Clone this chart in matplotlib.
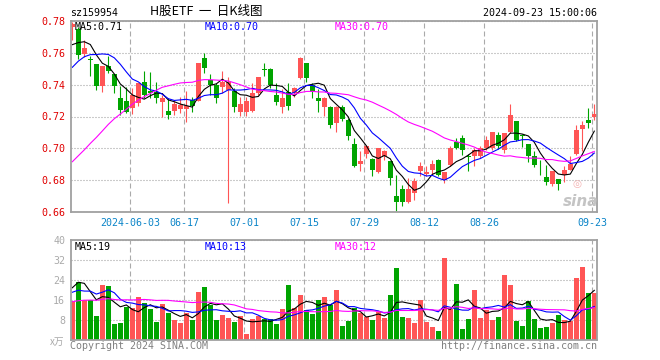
"""Daily K-line chart of the H-share ETF (sz159954), sina style
"""
import numpy as np
import pandas as pd
import matplotlib
matplotlib.use('Agg')
import matplotlib.pyplot as plt

W, H = 660, 360
MONO = 'DejaVu Sans Mono'
CJK = ['Noto Sans CJK SC', 'DejaVu Sans']
UP, DOWN = '#ff5555', '#00a400'
MA_COLORS = {5: '#000000', 10: '#0000ff', 30: '#ff00ff'}

# trading days on screen (SZSE calendar)
holidays = ['2024-06-10', '2024-09-16', '2024-09-17']
dates = pd.bdate_range('2024-05-20', '2024-09-23', freq='C', holidays=holidays)

tick_dates = ['2024-06-03', '2024-06-17', '2024-07-01', '2024-07-15',
              '2024-07-29', '2024-08-12', '2024-08-26', '2024-09-23']
tick_labels = ['2024-06-03', '06-17', '07-01', '07-15',
               '07-29', '08-12', '08-26', '09-23']

open_ = [0.776, 0.7746, 0.7592, 0.7555, 0.7529, 0.7388, 0.7517, 0.7469, 0.7315, 0.7298,
         0.7252, 0.7283, 0.7413, 0.736, 0.7356, 0.7288, 0.7235, 0.7235, 0.7248, 0.725,
         0.7304, 0.7298, 0.7567, 0.7429, 0.7398, 0.7383, 0.7367, 0.736, 0.7231, 0.7231,
         0.7235, 0.7346, 0.7498, 0.7498, 0.7335, 0.7262, 0.7356, 0.7346, 0.7442, 0.7538,
         0.7398, 0.7315, 0.7258, 0.7262, 0.7158, 0.7262, 0.7179, 0.703, 0.6904, 0.6967,
         0.6933, 0.685, 0.6954, 0.6919, 0.67, 0.6748, 0.6665, 0.6721, 0.6856, 0.6838,
         0.6863, 0.6929, 0.6804, 0.6898, 0.7038, 0.7065, 0.6952, 0.6952, 0.6952, 0.7002,
         0.7002, 0.7085, 0.6988, 0.71, 0.7169, 0.7081, 0.7029, 0.695, 0.6879, 0.6819,
         0.6779, 0.681, 0.6835, 0.6867, 0.6967, 0.7121, 0.7179, 0.7196]
high = [0.779, 0.776, 0.768, 0.758, 0.753, 0.7517, 0.758, 0.7469, 0.7388, 0.7383,
        0.7377, 0.7408, 0.7488, 0.748, 0.7419, 0.7335, 0.7315, 0.73, 0.7325, 0.736,
        0.7319, 0.7538, 0.76, 0.7467, 0.7408, 0.7485, 0.745, 0.7377, 0.7325, 0.7325,
        0.7408, 0.745, 0.7533, 0.7502, 0.7408, 0.7371, 0.7408, 0.7383, 0.7571, 0.7538,
        0.7408, 0.7373, 0.7325, 0.7265, 0.7265, 0.7275, 0.719, 0.7065, 0.6981, 0.7023,
        0.694, 0.7002, 0.6992, 0.6923, 0.6835, 0.6773, 0.6815, 0.6815, 0.6913, 0.6888,
        0.6929, 0.6933, 0.6854, 0.7017, 0.7065, 0.7085, 0.6965, 0.7002, 0.7017, 0.7075,
        0.7106, 0.7106, 0.7096, 0.7279, 0.7169, 0.709, 0.7029, 0.6981, 0.6929, 0.6898,
        0.686, 0.681, 0.6892, 0.6954, 0.7148, 0.7169, 0.7254, 0.7279]
low = [0.768, 0.756, 0.7575, 0.7456, 0.7363, 0.7356, 0.7475, 0.7346, 0.721, 0.7221,
       0.7215, 0.7263, 0.7315, 0.7315, 0.7283, 0.7194, 0.7183, 0.721, 0.7225, 0.7163,
       0.7231, 0.7294, 0.7475, 0.7335, 0.7283, 0.7346, 0.6658, 0.7231, 0.7204, 0.7204,
       0.7231, 0.7335, 0.7454, 0.7377, 0.7273, 0.7221, 0.7242, 0.7325, 0.7437, 0.7417,
       0.7315, 0.7231, 0.7204, 0.7127, 0.71, 0.7169, 0.705, 0.6883, 0.6856, 0.694,
       0.6829, 0.6846, 0.6929, 0.6773, 0.6606, 0.6638, 0.6658, 0.6675, 0.6827, 0.6827,
       0.6835, 0.6825, 0.6783, 0.6892, 0.6996, 0.696, 0.6858, 0.6892, 0.6942, 0.6988,
       0.6988, 0.6996, 0.6971, 0.7096, 0.7044, 0.7008, 0.6913, 0.6881, 0.6831, 0.6773,
       0.6767, 0.6738, 0.679, 0.6863, 0.696, 0.6981, 0.7127, 0.7179]
close = [0.778, 0.7585, 0.7627, 0.7552, 0.7388, 0.7517, 0.7487, 0.7388, 0.7238, 0.7231,
         0.7333, 0.7408, 0.7333, 0.7346, 0.7315, 0.7315, 0.721, 0.7277, 0.7273, 0.7267,
         0.7267, 0.7538, 0.7506, 0.7398, 0.7313, 0.7413, 0.7419, 0.7258, 0.7279, 0.7298,
         0.7346, 0.7446, 0.7494, 0.7398, 0.7288, 0.7315, 0.7267, 0.7377, 0.7567, 0.7442,
         0.7356, 0.73, 0.7315, 0.7148, 0.7262, 0.7183, 0.7079, 0.6888, 0.6919, 0.7017,
         0.6862, 0.7, 0.6981, 0.6815, 0.6663, 0.6665, 0.6748, 0.6798, 0.6888, 0.6852,
         0.6902, 0.6831, 0.685, 0.7002, 0.7002, 0.6988, 0.6948, 0.6988, 0.7002, 0.7054,
         0.7106, 0.7013, 0.7096, 0.721, 0.7054, 0.7077, 0.6954, 0.6898, 0.6875, 0.6788,
         0.686, 0.6779, 0.6867, 0.6902, 0.7117, 0.7148, 0.7158, 0.7217]
# volume, in units of 10k lots
volume = [15.6, 23.1, 16.0, 16.0, 9.6, 22.0, 21.6, 6.4, 6.8, 13.3,
          12.8, 17.2, 14.8, 12.4, 7.2, 14.4, 10.8, 8.0, 6.8, 10.8,
          8.0, 19.2, 21.2, 14.0, 8.0, 10.0, 8.8, 7.2, 9.6, 2.4,
          8.4, 9.6, 8.4, 8.4, 6.4, 12.4, 22.0, 12.8, 18.0, 12.0,
          10.4, 16.0, 17.2, 13.9, 20.0, 5.6, 7.7, 12.7, 10.9, 9.1,
          8.0, 11.3, 8.8, 18.0, 28.9, 9.2, 8.8, 6.8, 16.0, 7.2,
          5.3, 3.6, 32.8, 12.3, 22.4, 4.4, 8.4, 20.0, 8.8, 12.0,
          8.0, 9.2, 26.1, 22.0, 7.6, 5.6, 15.6, 8.4, 4.8, 5.2,
          6.8, 10.0, 8.0, 7.6, 24.8, 29.3, 18.9, 18.7]

# the 29 sessions before the window, only needed to seed the moving averages
prev_close = [0.646, 0.652, 0.634, 0.627, 0.630, 0.625, 0.632, 0.636, 0.634, 0.639,
              0.662, 0.668, 0.675, 0.671, 0.676, 0.694, 0.699, 0.702, 0.718, 0.722,
              0.720, 0.735, 0.742, 0.738, 0.748, 0.752, 0.760, 0.764, 0.771]
prev_vol = [11.2, 9.8, 14.5, 12.0, 10.6, 13.8, 16.2, 12.4, 11.0, 15.1,
            13.6, 12.2, 17.0, 14.3, 12.8, 11.5, 15.8, 13.0, 16.4, 15.1,
            14.8, 19.6, 16.2, 21.4, 14.5, 12.1, 18.2, 32.6, 26.0]


def moving_averages(prev, values):
    s = pd.Series(list(prev) + list(values))
    return {n: s.rolling(n).mean().values[-len(values):] for n in (5, 10, 30)}


def put(x, y, s, **kw):
    """Place a text using pixel coordinates of the 660x360 canvas."""
    kw.setdefault('va', 'center')
    kw.setdefault('family', MONO)
    kw.setdefault('size', 7.2)
    fig.text(x / W, 1 - y / H, s, **kw)


def style_axes(ax, xticks):
    for sp in ax.spines.values():
        sp.set_color('#a0a0a0')
        sp.set_linewidth(1.3)
    ax.tick_params(length=0)
    ax.set_xticks(xticks)
    ax.xaxis.grid(True, color='#aaaaaa', linewidth=0.8, linestyle=(0, (4.5, 2.7)))
    ax.yaxis.grid(True, color='#999999', linewidth=0.8, linestyle=(0, (0.9, 1.8)))
    ax.set_axisbelow(True)


o = np.array(open_)
c = np.array(close)
n = len(c)
assert len(dates) == n
x = np.arange(n)
up = c >= o
colors = np.where(up, UP, DOWN)

ma_p = moving_averages(prev_close, close)
ma_v = moving_averages(prev_vol, volume)

tick_pos = np.array([dates.get_loc(pd.Timestamp(d)) for d in tick_dates]) - 0.33

fig = plt.figure(figsize=(W / 100, H / 100), dpi=100)
left, right = 70.7, 597
ax = fig.add_axes([left / W, 1 - 212.3 / H, (right - left) / W, (212.3 - 20.7) / H])
axv = fig.add_axes([left / W, 1 - 340 / H, (right - left) / W, 100 / H])

# watermark sits under the candles
put(577, 184, '◎', ha='center', family='DejaVu Sans', size=7.5,
    color='#f4b0b0', zorder=0)
put(581, 201, 'sina', ha='center', family='DejaVu Sans', size=11,
    style='italic', weight='bold', color='#c4c4c4', zorder=0)
ax.patch.set_alpha(0)

# price panel
style_axes(ax, tick_pos)
ax.vlines(x, low, high, colors=colors, linewidth=0.8)
body = np.maximum(np.abs(c - o), 0.0005)
ax.bar(x, body, bottom=np.minimum(o, c), width=0.8, color=colors, linewidth=0)
for k in (5, 10, 30):
    ax.plot(x, ma_p[k], color=MA_COLORS[k], linewidth=0.8)
ax.set_xlim(-0.27, 87.45)
ax.set_ylim(0.66, 0.78)
yt = [0.66, 0.68, 0.70, 0.72, 0.74, 0.76, 0.78]
ax.set_yticks(yt)
ax.set_yticklabels(['%.2f' % v for v in yt], family=MONO, size=7.2, color='#e00000')
ax.set_xticklabels(tick_labels, family=MONO, size=7.2, color='#0a84c8')
ax.tick_params(axis='y', pad=4)
ax.tick_params(axis='x', pad=4)

# volume panel
style_axes(axv, tick_pos)
axv.bar(x, volume, width=0.85, color=colors, linewidth=0)
for k in (5, 10, 30):
    axv.plot(x, ma_v[k], color=MA_COLORS[k], linewidth=0.8)
axv.set_xlim(-0.27, 87.45)
axv.set_ylim(0, 40)
vt = [0, 8, 16, 24, 32, 40]
axv.set_yticks(vt)
axv.set_yticklabels([''] + [str(v) for v in vt[1:]], family=MONO, size=7.2,
                    color='#aaaaaa')
axv.set_xticklabels([])
axv.tick_params(axis='y', pad=4)

# header and legends
put(70, 13, 'sz159954')
put(206, 11.5, 'H股ETF  一  日K线图', ha='center', family=CJK, size=9)
put(597, 13, '2024-09-23 15:00:06', ha='right')
for k, xx in ((5, 75), (10, 205), (30, 335)):
    put(xx, 26.5, 'MA%d:%.2f' % (k, ma_p[k][-1]), color=MA_COLORS[k])
    put(xx, 246.5, 'MA%d:%d' % (k, int(ma_v[k][-1])), color=MA_COLORS[k])
put(64, 342, 'x万', ha='right', family=CJK, size=7, color='#aaaaaa')
put(70, 346, 'Copyright 2024 SINA.COM', color='#808080')
put(597, 346, 'http://finance.sina.com.cn', ha='right', color='#808080')

fig.savefig('out.png', dpi=100)
